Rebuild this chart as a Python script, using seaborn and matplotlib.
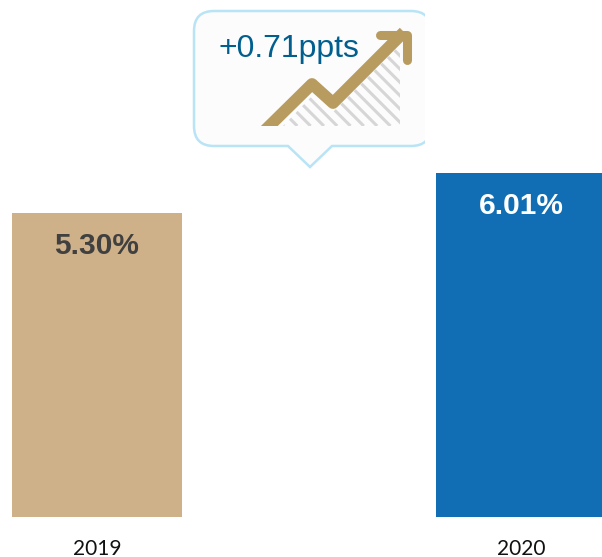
import matplotlib
matplotlib.use('Agg')
import matplotlib.pyplot as plt
import matplotlib.patches as mpatches
from matplotlib.path import Path
import numpy as np
import pandas as pd
import seaborn as sns

years = ['2019', '2020']
values = [5.30, 6.01]
labels = ['5.30%', '6.01%']
bar_colors = ['#CFB189', '#116EB4']
label_colors = ['#404040', '#FFFFFF']
callout_text = '+0.71ppts'

W, H = 602, 557
BASE_Y = 517
PX_PER_UNIT = 57.3
CENTER_0 = 97
UNIT_X = 424

sns.set_theme(style='white')
plt.rcParams['font.family'] = ['Liberation Sans', 'DejaVu Sans']

df = pd.DataFrame({'year': years, 'value': values})

fig = plt.figure(figsize=(W / 100, H / 100), dpi=100)
ax = fig.add_axes([0, (H - BASE_Y) / H, 1, BASE_Y / H])

sns.barplot(data=df, x='year', y='value', hue='year', palette=bar_colors,
            width=170 / UNIT_X, saturation=1, legend=False, linewidth=0, ax=ax)
ax.set_xlim(-CENTER_0 / UNIT_X, (W - CENTER_0) / UNIT_X)
ax.set_ylim(0, BASE_Y / PX_PER_UNIT)
ax.set_xlabel('')
ax.set_ylabel('')
ax.set_yticks([])
ax.tick_params(axis='x', length=0, pad=15.5)
for t in ax.get_xticklabels():
    t.set_fontfamily('Lato')
    t.set_fontsize(15)
    t.set_color('#111111')
sns.despine(ax=ax, left=True, bottom=True)
ax.patch.set_alpha(0)

for i in range(len(years)):
    ax.annotate(labels[i], xy=(i, values[i]), xytext=(0, -33 * 0.72),
                textcoords='offset points', ha='center', va='center',
                fontsize=21.5, fontweight='bold', color=label_colors[i])

# callout drawn in pixel coords
ov = fig.add_axes([0, 0, 1, 1], zorder=5)
ov.set_xlim(0, W)
ov.set_ylim(H, 0)
ov.axis('off')

L, R, T, B, r = 194, 431, 11, 146, 20
verts = [(L + r, T), (R - r, T), (R, T), (R, T + r), (R, B - r), (R, B), (R - r, B),
         (332, B), (310, 167), (288, B), (L + r, B), (L, B), (L, B - r), (L, T + r), (L, T), (L + r, T)]
codes = [Path.MOVETO, Path.LINETO, Path.CURVE3, Path.CURVE3, Path.LINETO, Path.CURVE3, Path.CURVE3,
         Path.LINETO, Path.LINETO, Path.LINETO, Path.LINETO, Path.CURVE3, Path.CURVE3, Path.LINETO,
         Path.CURVE3, Path.CURVE3]
bubble = mpatches.PathPatch(Path(verts, codes), facecolor='#FCFCFC', edgecolor='#B8E4F6', lw=1.8)
ov.add_patch(bubble)
bubble.set_clip_path(mpatches.Rectangle((0, 0), 425, H, transform=ov.transData))

# hatched area under the arrow
area = mpatches.Polygon([(283, 126), (313, 95), (333, 112), (400, 45), (400, 126)],
                        facecolor='none', edgecolor='none', transform=ov.transData)
ov.add_patch(area)
for x0 in np.arange(284, 560, 13.3):
    ln, = ov.plot([x0, x0 - 130], [126, -4], color='#D6D6D6', lw=2.2, solid_capstyle='butt')
    ln.set_clip_path(area)

# gold arrow
clip = mpatches.Rectangle((0, 0), W, 126, transform=ov.transData)
a1, = ov.plot([249, 312, 333, 404], [146, 84, 103, 32], color='#B89B5E', lw=8.5,
              solid_joinstyle='round', solid_capstyle='butt')
a1.set_clip_path(clip)
a2, = ov.plot([380, 407, 407], [35, 35, 60], color='#B89B5E', lw=6.5,
              solid_joinstyle='round', solid_capstyle='round')

ov.text(219, 48.5, callout_text, fontsize=23, color='#005F8E', ha='left', va='center')

fig.savefig('out.png', dpi=100)
